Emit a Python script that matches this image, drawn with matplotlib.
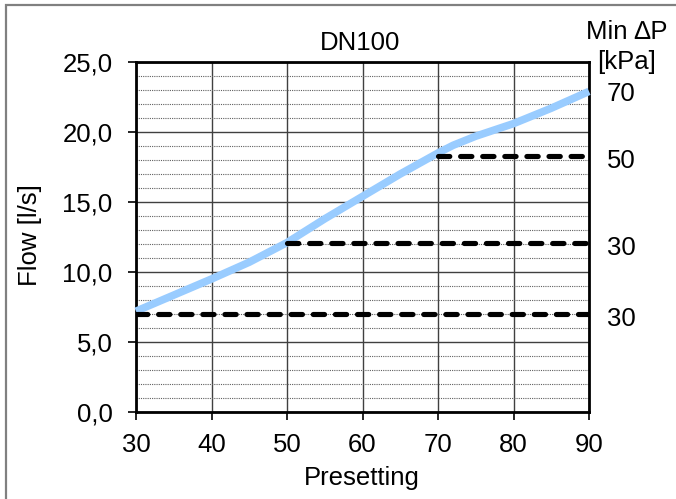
import matplotlib
matplotlib.use("Agg")
import matplotlib.pyplot as plt
from matplotlib.patches import Rectangle

plt.rcParams['font.family'] = ['Liberation Sans', 'DejaVu Sans']

presetting = [30, 35, 40, 45, 50, 55, 60, 65, 70, 72, 75, 80, 85, 90]
flow = [7.2, 8.35, 9.5, 10.7, 12.1, 13.8, 15.4, 17.0, 18.5, 19.05, 19.7, 20.6, 21.7, 22.9]

min_dp_levels = [7.0, 12.05, 18.3]
min_dp_start = [30, 50, 70]
min_dp_labels = ["30", "30", "50", "70"]
min_dp_label_y = [6.8, 11.9, 18.1, 22.9]

x_ticks = [30, 40, 50, 60, 70, 80, 90]
y_ticks = [0, 5, 10, 15, 20, 25]
y_tick_labels = ["0,0", "5,0", "10,0", "15,0", "20,0", "25,0"]

FS = 18.5
W, H = 676, 499

fig = plt.figure(figsize=(W/100, H/100), dpi=100)
ax = fig.add_axes([136/W, 1-412/H, (589-136)/W, (412-62)/H])

# figure border (only top and left visible)
fig.patches.append(Rectangle((6/W, -0.5), 2, 1.5-5/H, transform=fig.transFigure,
                             fill=False, edgecolor='#808080', linewidth=1.6, zorder=0))

ax.set_xlim(30, 90)
ax.set_ylim(0, 25)
ax.set_xticks(x_ticks)
ax.set_yticks(y_ticks)
ax.set_yticklabels(y_tick_labels)
ax.set_yticks([v for v in range(1, 25) if v % 5 != 0], minor=True)
ax.tick_params(axis='both', which='major', direction='out', length=6, width=1.2,
               labelsize=FS, colors='black')
ax.tick_params(axis='x', which='major', pad=9)
ax.tick_params(axis='y', which='major', pad=11)
ax.tick_params(axis='y', which='minor', length=0)
ax.grid(True, which='major', axis='both', color='#404040', linewidth=1.0, linestyle='-')
ax.grid(True, which='minor', axis='y', color='#606060', linewidth=0.8, linestyle=(0, (1, 1)))
ax.set_axisbelow(True)
for s in ax.spines.values():
    s.set_linewidth(2)
    s.set_color('black')

ax.plot(presetting, flow, color='#99CCFF', linewidth=5.5, solid_capstyle='butt', zorder=3,
        clip_on=False)

for lvl, st in zip(min_dp_levels, min_dp_start):
    ax.plot([st, 90], [lvl, lvl], color='black', linewidth=3.7,
            linestyle=(0, (2.2, 2.1)), dash_capstyle='round', zorder=4)

for lab, yv in zip(min_dp_labels, min_dp_label_y):
    ax.text(1.04, yv / 25, lab, transform=ax.transAxes, fontsize=FS,
            ha='left', va='center_baseline')

ax.text(1.084, (412-39)/350, "Min ∆P", transform=ax.transAxes, fontsize=FS,
        ha='center', va='baseline')
ax.text(1.084, (412-69)/350, "[kPa]", transform=ax.transAxes, fontsize=FS,
        ha='center', va='baseline')

ax.text(0.495, (412-50)/350, "DN100", transform=ax.transAxes, fontsize=FS,
        ha='center', va='baseline')
fig.text(362/W, 1-485/H, "Presetting", fontsize=FS, ha='center', va='baseline')
fig.text(30/W, 1-235/H, "Flow [l/s]", fontsize=FS, ha='center', va='center', rotation=90)

fig.savefig("out.png", dpi=100)
